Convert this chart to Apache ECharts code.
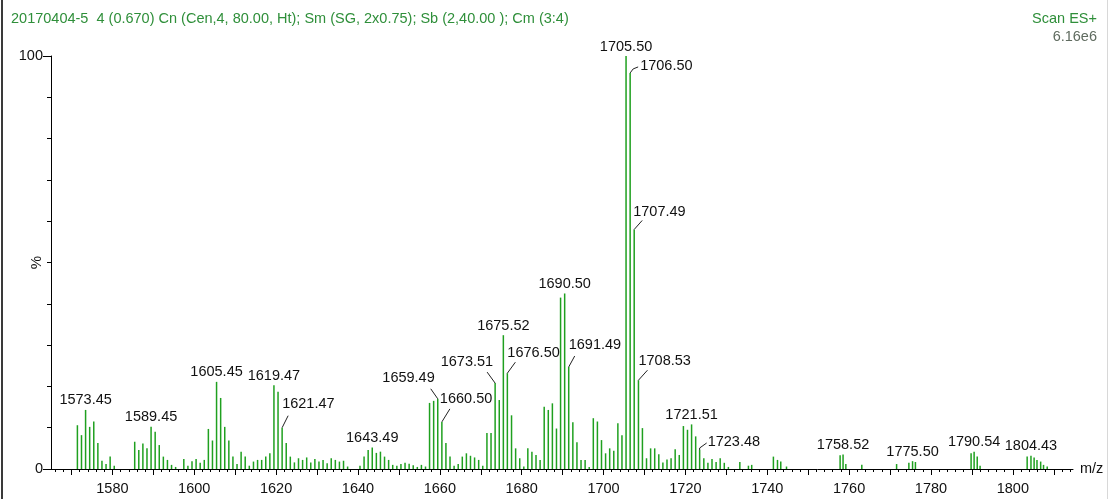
<!DOCTYPE html>
<html>
<head>
<meta charset="utf-8">
<script src="https://cdn.jsdelivr.net/npm/echarts@6/dist/echarts.min.js"></script>
<style>
  html, body { margin: 0; padding: 0; background: #fff; }
  #chart { width: 1110px; height: 499px; }
</style>
</head>
<body>
<div id="chart"></div>
<script>
// Centroided ES+ scan: m/z of each stick and its relative intensity (%)
const peakMz = [
  1571.45, 1572.45, 1573.45, 1574.45, 1575.45, 1576.45, 1577.45, 1578.45, 1579.45, 1580.45,
  1585.45, 1586.45, 1587.45, 1588.45, 1589.45, 1590.45, 1591.45, 1592.45, 1593.45, 1594.45, 1595.45,
  1597.45, 1598.45, 1599.45, 1600.45, 1601.45, 1602.45, 1603.45, 1604.45, 1605.45, 1606.45,
  1607.45, 1608.45, 1609.45, 1610.45, 1611.45, 1612.45, 1613.45,
  1614.47, 1615.47, 1616.47, 1617.47, 1618.47, 1619.47, 1620.47, 1621.47, 1622.47, 1623.47,
  1624.47, 1625.47, 1626.47, 1627.47, 1628.47, 1629.47, 1630.47, 1631.47, 1632.47, 1633.47,
  1634.47, 1635.47, 1636.47, 1637.47,
  1640.49, 1641.49, 1642.49, 1643.49, 1644.49, 1645.49, 1646.49, 1647.49, 1648.49,
  1649.50, 1650.50, 1651.50, 1652.50, 1653.50, 1654.50, 1655.50, 1656.50,
  1657.49, 1658.49, 1659.49, 1660.50, 1661.49, 1662.49, 1663.49, 1664.49, 1665.49, 1666.49,
  1667.49, 1668.49, 1669.49, 1670.49,
  1671.51, 1672.51, 1673.51, 1674.52, 1675.52, 1676.50, 1677.52, 1678.52, 1679.52, 1680.52,
  1681.50, 1682.50, 1683.50, 1684.50, 1685.50, 1686.50, 1687.50, 1688.50, 1689.50, 1690.50,
  1691.49, 1692.50, 1693.50, 1694.50, 1695.50, 1696.50,
  1697.50, 1698.50, 1699.50, 1700.50, 1701.50, 1702.50, 1703.50, 1704.50, 1705.50, 1706.50,
  1707.49, 1708.53, 1709.50, 1710.50, 1711.50, 1712.50, 1713.50, 1714.50, 1715.50, 1716.50,
  1717.50, 1718.50,
  1719.51, 1720.51, 1721.51, 1722.51, 1723.48, 1724.50, 1725.50, 1726.50, 1727.50, 1728.50,
  1729.50, 1730.50, 1733.30, 1735.40, 1736.20, 1741.50, 1742.50, 1743.30, 1744.70,
  1757.80, 1758.52, 1759.20, 1763.10, 1771.60, 1774.60, 1775.50, 1776.20,
  1789.80, 1790.54, 1791.30, 1792.00,
  1803.50, 1804.43, 1805.20, 1805.90, 1806.80, 1807.50, 1808.40
];
const peakPct = [
  10.6, 8.2, 14.3, 10.2, 11.5, 6.3, 2.0, 1.2, 3.0, 0.8,
  6.6, 4.6, 6.2, 5.0, 10.2, 9.0, 5.8, 3.0, 2.2, 1.0, 0.5,
  2.4, 0.8, 1.9, 2.4, 1.5, 2.2, 9.7, 6.9, 21.1, 17.2,
  10.2, 6.9, 3.0, 1.2, 4.2, 3.0, 0.8,
  1.8, 2.2, 2.2, 3.0, 3.8, 20.3, 18.7, 10.0, 6.3, 3.0,
  1.6, 2.6, 2.2, 2.8, 1.6, 2.4, 1.8, 2.2, 1.4, 2.6,
  2.2, 1.8, 2.0, 0.6,
  0.8, 3.0, 4.6, 5.2, 3.9, 4.2, 3.0, 2.2, 1.0,
  0.8, 1.2, 1.5, 1.3, 0.9, 0.5, 1.0, 0.6,
  16.0, 16.5, 17.0, 11.4, 6.3, 3.0, 0.8, 1.2, 3.0, 3.8,
  3.2, 2.8, 2.2, 0.8,
  8.7, 8.7, 20.8, 16.7, 32.4, 23.2, 13.0, 5.0, 2.6, 0.6,
  5.0, 4.2, 3.4, 2.2, 15.1, 14.3, 15.9, 9.8, 41.5, 42.5,
  24.7, 11.3, 6.5, 2.2, 2.2, 0.5,
  12.3, 11.5, 7.0, 3.8, 5.0, 4.4, 11.1, 8.2, 100, 95.9,
  58.0, 21.5, 9.9, 2.6, 5.0, 5.0, 3.6, 1.6, 2.3, 2.6,
  4.8, 3.4,
  10.4, 9.5, 10.8, 7.9, 4.6, 2.6, 1.5, 2.4, 1.7, 2.6,
  1.5, 0.5, 1.7, 0.8, 1.0, 3.0, 2.2, 1.8, 0.6,
  3.3, 3.5, 1.2, 1.0, 1.2, 1.5, 1.9, 1.7,
  3.8, 4.2, 3.0, 0.8,
  3.0, 3.2, 2.8, 2.2, 1.8, 1.0, 0.6
];

// Annotated peaks (m/z shown above the stick)
const labelMz = [
  1573.45, 1589.45, 1605.45, 1619.47, 1621.47, 1643.49, 1659.49, 1660.50,
  1673.51, 1675.52, 1676.50, 1690.50, 1691.49, 1705.50, 1706.50, 1707.49,
  1708.53, 1721.51, 1723.48, 1758.52, 1775.50, 1790.54, 1804.43
];

// Axis tick labels
const xLabelValues = [1580, 1600, 1620, 1640, 1660, 1680, 1700, 1720, 1740, 1760, 1780, 1800];
const yLabelValues = [0, 100];

// Header texts
const headerText = '20170404-5  4 (0.670) Cn (Cen,4, 80.00, Ht); Sm (SG, 2x0.75); Sb (2,40.00 ); Cm (3:4)';
const scanText = 'Scan ES+';
const baseIntensityText = '6.16e6';

// Placement of the annotations that sit beside their stick, with a leader line.
// text: [dx, dy] of the text anchor from the stick top; leader: polyline from the stick top.
const labelLayout = {
  '1621.47': { text: [0, -16], align: 'left', vAlign: 'bottom', leader: [[0, 0], [6, -12]] },
  '1659.49': { text: [-3, -13], align: 'right', vAlign: 'bottom', leader: [[0, 0], [-7, -10]] },
  '1660.50': { text: [-2, -15], align: 'left', vAlign: 'bottom', leader: [[0, 0], [8, -13]] },
  '1673.51': { text: [-2, -14], align: 'right', vAlign: 'bottom', leader: [[0, 0], [-8, -11]] },
  '1676.50': { text: [0, -13], align: 'left', vAlign: 'bottom', leader: [[0, 0], [8, -11]] },
  '1691.49': { text: [0, -14], align: 'left', vAlign: 'bottom', leader: [[0, 0], [6, -11]] },
  '1706.50': { text: [10, -7], align: 'left', vAlign: 'middle', leader: [[0, 0], [3, -4], [8, -6]] },
  '1707.49': { text: [-1, -10], align: 'left', vAlign: 'bottom', leader: [[0, 0], [8, -9]] },
  '1708.53': { text: [0, -12], align: 'left', vAlign: 'bottom', leader: [[0, 0], [9, -10]] },
  '1723.48': { text: [8, -8], align: 'left', vAlign: 'middle', leader: [[0, 0], [0, -2], [7, -7]] }
};

const FONT = "'Liberation Sans', Arial, sans-serif";
const FONT_SIZE = 14.5;
const STICK = '#1fa01f';

const sticks = peakMz.map((m, i) => [m, peakPct[i]]);
const labelled = labelMz.map(m => [m, peakPct[peakMz.indexOf(m)]]);

const minorTicks = [];
for (let v = 1566; v <= 1814; v += 2) minorTicks.push(v);
const majorTicks = [];
for (let v = 1570; v <= 1810; v += 10) majorTicks.push(v);

const chart = echarts.init(document.getElementById('chart'), null, { renderer: 'canvas' });

chart.setOption({
  animation: false,
  backgroundColor: '#fff',
  title: [
    { text: headerText, left: 6, top: 6,
      textStyle: { fontFamily: FONT, fontSize: FONT_SIZE, fontWeight: 'normal', color: '#2f8f3a' } },
    { text: scanText, right: 8, top: 6,
      textStyle: { fontFamily: FONT, fontSize: FONT_SIZE, fontWeight: 'normal', color: '#2f8f3a' } },
    { text: baseIntensityText, right: 8, top: 24,
      textStyle: { fontFamily: FONT, fontSize: FONT_SIZE, fontWeight: 'normal', color: '#5f6b5f' } }
  ],
  graphic: [
    { type: 'rect', left: 1, top: 0, shape: { width: 2, height: 499 }, style: { fill: '#3a3a3a' } },
    { type: 'rect', left: 1107, top: 0, shape: { width: 1, height: 499 }, style: { fill: '#d8d8d8' } }
  ],
  grid: { left: 51, right: 37, top: 56, bottom: 30, containLabel: false, outerBoundsMode: 'none' },
  xAxis: [
    {
      type: 'value', min: 1565, max: 1814.7,
      name: 'm/z', nameLocation: 'end', nameGap: 7,
      nameTextStyle: { fontFamily: FONT, fontSize: FONT_SIZE, color: '#111', verticalAlign: 'middle' },
      axisLine: { show: true, lineStyle: { color: '#000', width: 1 } },
      axisTick: { show: true, length: 6, lineStyle: { color: '#000' }, customValues: majorTicks },
      axisLabel: {
        customValues: xLabelValues, fontFamily: FONT, fontSize: FONT_SIZE, color: '#111', margin: 12,
        formatter: v => String(v)
      },
      splitLine: { show: false }
    },
    {
      type: 'value', min: 1565, max: 1814.7, position: 'bottom',
      axisLine: { show: false },
      axisTick: { show: true, length: 3, lineStyle: { color: '#000' }, customValues: minorTicks },
      axisLabel: { show: false },
      splitLine: { show: false }
    }
  ],
  yAxis: {
    type: 'value', min: 0, max: 100, interval: 100,
    name: '%', nameLocation: 'middle', nameGap: 7, nameRotate: 90, nameMoveOverlap: false,
    nameTextStyle: { fontFamily: FONT, fontSize: 15, color: '#111' },
    axisLine: { show: true, lineStyle: { color: '#000', width: 1 } },
    axisTick: { show: true, length: 8, lineStyle: { color: '#000' } },
    minorTick: { show: true, splitNumber: 10, length: 4, lineStyle: { color: '#000' } },
    axisLabel: {
      fontFamily: FONT, fontSize: FONT_SIZE, color: '#111', margin: 8,
      formatter: v => (yLabelValues.indexOf(v) >= 0 ? String(v) : '')
    },
    splitLine: { show: false }
  },
  series: [
    {
      type: 'custom',
      name: 'sticks',
      clip: false,
      data: sticks,
      renderItem: (params, api) => {
        const base = api.coord([api.value(0), 0]);
        const top = api.coord([api.value(0), api.value(1)]);
        return {
          type: 'line',
          shape: { x1: base[0], y1: base[1], x2: top[0], y2: top[1] },
          style: { stroke: STICK, lineWidth: 1.5 }
        };
      }
    },
    {
      type: 'custom',
      name: 'annotations',
      clip: false,
      data: labelled,
      renderItem: (params, api) => {
        const m = api.value(0);
        const p = api.coord([m, api.value(1)]);
        const txt = m.toFixed(2);
        const lay = labelLayout[txt];
        const font = FONT_SIZE + 'px ' + FONT;
        const children = [];
        if (lay) {
          children.push({
            type: 'polyline',
            shape: { points: lay.leader.map(d => [p[0] + d[0], p[1] + d[1]]) },
            style: { stroke: '#222', lineWidth: 1, fill: null }
          });
          children.push({
            type: 'text',
            style: {
              x: p[0] + lay.text[0], y: p[1] + lay.text[1], text: txt,
              align: lay.align, verticalAlign: lay.vAlign, font, fill: '#111'
            }
          });
        } else {
          children.push({
            type: 'text',
            style: {
              x: p[0], y: p[1] - 2, text: txt, align: 'center', verticalAlign: 'bottom',
              font, fill: '#111'
            }
          });
        }
        return { type: 'group', children };
      }
    }
  ]
});
</script>
</body>
</html>
